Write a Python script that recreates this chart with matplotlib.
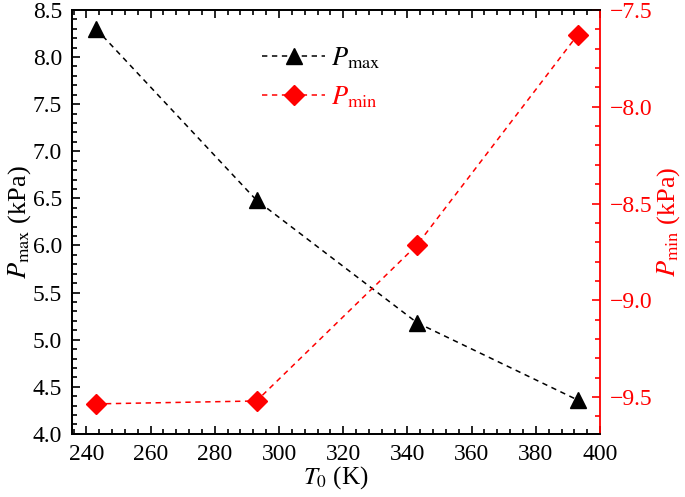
import matplotlib
matplotlib.use('Agg')
import matplotlib.pyplot as plt
from matplotlib.ticker import MultipleLocator

# data
T0 = [243, 293, 343, 393]
p_max = [8.30, 6.48, 5.18, 4.36]
p_min = [-9.535, -9.52, -8.714, -7.629]

plt.rcParams['font.family'] = ['Liberation Serif', 'DejaVu Serif']
plt.rcParams['mathtext.fontset'] = 'stix'
plt.rcParams['font.size'] = 17

fig = plt.figure(figsize=(6.85, 4.97), dpi=100)
ax = fig.add_axes([0.105, 0.127, 0.771, 0.853])
ax2 = ax.twinx()

l1, = ax.plot(T0, p_max, color='black', ls=(0, (3.5, 3)), lw=1.1,
              marker='^', ms=11.5, label=r'$P_{\rm max}$')
l2, = ax2.plot(T0, p_min, color='red', ls=(0, (3.5, 3)), lw=1.1,
               marker='D', ms=10.5, label=r'$P_{\rm min}$')

ax.set_xlim(235.5, 400)
ax.set_ylim(4.0, 8.5)
ax2.set_ylim(-9.69, -7.5)

ax.xaxis.set_major_locator(MultipleLocator(20))
ax.xaxis.set_minor_locator(MultipleLocator(4))
ax.yaxis.set_major_locator(MultipleLocator(0.5))
ax.yaxis.set_minor_locator(MultipleLocator(0.1))
ax2.yaxis.set_major_locator(MultipleLocator(0.5))
ax2.yaxis.set_minor_locator(MultipleLocator(0.1))
ax.yaxis.set_major_formatter('{x:.1f}')
ax2.yaxis.set_major_formatter('{x:.1f}')

ax.tick_params(which='both', direction='in', top=True, right=False, width=1.2)
ax.tick_params(which='major', length=6, pad=7)
ax.tick_params(which='minor', length=3.5)
ax2.tick_params(which='both', direction='in', colors='red', width=1.2)
ax2.tick_params(which='major', length=6, pad=7)
ax2.tick_params(which='minor', length=3.5)

for s in ['left', 'bottom', 'top']:
    ax.spines[s].set_linewidth(1.3)
    ax2.spines[s].set_linewidth(1.3)
ax2.spines['right'].set_color('red')
ax2.spines['right'].set_linewidth(1.3)
ax.spines['right'].set_visible(False)

ax.set_xlabel(r'$T_0$ (K)', labelpad=0, fontsize=18)
ax.set_ylabel(r'$P_{\rm max}$ (kPa)', labelpad=0, fontsize=19)
ax2.set_ylabel(r'$P_{\rm min}$ (kPa)', color='red', labelpad=2, fontsize=19)

leg = ax2.legend(handles=[l1, l2], loc='upper left', bbox_to_anchor=(0.315, 0.972),
                 frameon=False, labelspacing=0.5, handlelength=2.4,
                 handletextpad=0.2, fontsize=19)
leg.get_texts()[1].set_color('red')

fig.savefig('out.png', dpi=100)
